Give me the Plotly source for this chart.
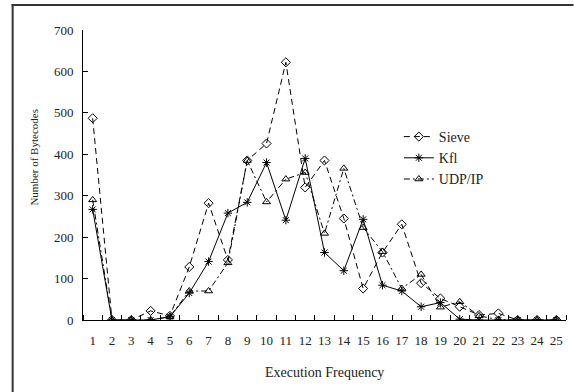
import plotly.graph_objects as go

freq = list(range(1, 26))
tick_labels = [str(i) for i in freq]
sieve = [487, 0, 0, 22, 10, 128, 282, 145, 385, 426, 622, 320, 385, 245, 76, 163, 231, 89, 52, 32, 12, 16, 0, 0, 0]
kfl = [267, 0, 0, 0, 8, 65, 141, 258, 284, 380, 241, 390, 163, 119, 243, 84, 70, 32, 42, 2, 0, 0, 0, 0, 0]
udp = [290, 0, 0, 0, 8, 70, 70, 138, 385, 285, 340, 356, 209, 366, 223, 165, 76, 110, 31, 44, 10, 1, 0, 0, 0]

FONT = "Liberation Serif, Times New Roman, serif"
L, R, T, B = 82.5, 7.5, 30, 72
W, H = 574, 392
pw, ph = W - L - R, H - T - B

fig = go.Figure()
fig.add_trace(go.Scatter(x=freq, y=sieve, name="Sieve", mode="lines+markers",
                         line=dict(color="black", width=1, dash="6px,4px"),
                         marker=dict(symbol="diamond-open", size=7, color="black", line=dict(width=1, color="black"))))
fig.add_trace(go.Scatter(x=freq, y=kfl, name="Kfl", mode="lines+markers",
                         line=dict(color="black", width=1),
                         marker=dict(symbol="asterisk-open", size=7, color="black", line=dict(width=1, color="black"))))
fig.add_trace(go.Scatter(x=freq, y=udp, name="UDP/IP", mode="lines+markers",
                         line=dict(color="black", width=1, dash="6px,3px,2px,3px"),
                         marker=dict(symbol="triangle-up-open", size=7, color="black", line=dict(width=1, color="black"))))

def px(x):
    return (x - L) / pw

def py(y):
    return (H - B - y) / ph

fig.update_layout(
    width=W, height=H,
    margin=dict(l=L, r=R, t=T, b=B),
    paper_bgcolor="white", plot_bgcolor="white",
    font=dict(family=FONT, size=13, color="#222"),
    showlegend=True,
    legend=dict(x=px(399), y=py(121), xanchor="left", yanchor="top",
                bgcolor="rgba(0,0,0,0)", font=dict(family=FONT, size=14, color="#222"),
                itemwidth=30, tracegroupgap=0),
    xaxis=dict(range=[0.5, 25.5], tickmode="array", tickvals=freq, ticktext=tick_labels,
               ticks="", showgrid=False, zeroline=False, showline=True, linecolor="black", linewidth=1,
               tickfont=dict(family=FONT, size=13, color="#222"),
               minor=dict(tickmode="linear", tick0=0.5, dtick=1, ticks="inside", ticklen=5,
                          tickcolor="black", showgrid=False),
               ticklabelstandoff=8),
    yaxis=dict(range=[0, 700], tickmode="linear", tick0=0, dtick=100, ticks="inside", ticklen=5,
               tickcolor="black", showgrid=False, zeroline=False, showline=True, linecolor="black",
               linewidth=1, tickfont=dict(family=FONT, size=13, color="#222"), ticklabelstandoff=6),
    annotations=[
        dict(text="Execution Frequency", x=0.5, y=py(372), xref="paper", yref="paper",
             showarrow=False, font=dict(family=FONT, size=14, color="#222"), xanchor="center", yanchor="middle"),
        dict(text="Number of Bytecodes", x=px(33), y=py(157), xref="paper", yref="paper",
             textangle=-90, showarrow=False, font=dict(family=FONT, size=11, color="#222"),
             xanchor="center", yanchor="middle"),
    ],
    shapes=[
        dict(type="line", xref="paper", yref="paper", x0=px(11), x1=px(574), y0=py(5), y1=py(5),
             line=dict(color="#333", width=2)),
        dict(type="line", xref="paper", yref="paper", x0=px(12), x1=px(12), y0=py(4), y1=py(394),
             line=dict(color="#333", width=2)),
    ],
)

fig.write_html("out.html", config={"displayModeBar": False},
               post_script="document.body.style.margin='0';document.body.style.padding='0';")
